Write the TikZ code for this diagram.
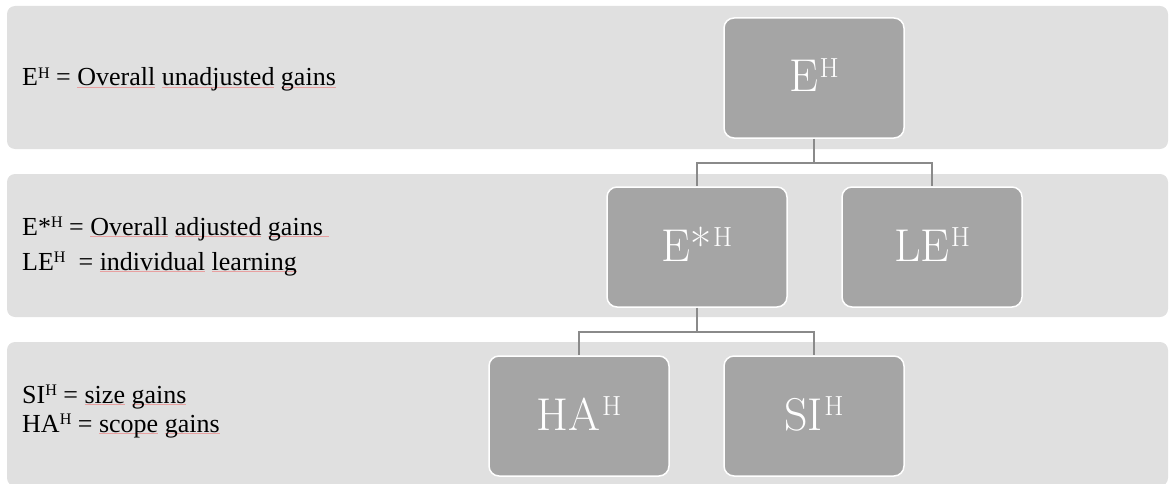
\documentclass[tikz,border=0pt]{standalone}
\usepackage{fontspec}
\usepackage{graphicx}
\newfontfamily\garfont{Liberation Serif}
\definecolor{bandgray}{HTML}{E0E0E0}
\definecolor{boxgray}{HTML}{A5A5A5}
\definecolor{conngray}{HTML}{8A8A8A}
\definecolor{squigred}{HTML}{E8A0A0}
\newcommand\supH{\kern1.5pt\raisebox{0.31em}{\scalebox{0.6}{H}}}
\newcommand\supHs{\raisebox{0.3em}{\scalebox{0.62}{H}}}
\newsavebox\squigbox
\newcommand\squig[1]{\sbox\squigbox{#1}\rlap{\textcolor{squigred}{\rule[-1.5pt]{\wd\squigbox}{0.6pt}}}\usebox\squigbox}
\begin{document}
\begin{tikzpicture}[x=1pt,y=-1pt,
  band/.style={fill=bandgray, rounded corners=8pt},
  box/.style={draw=white, line width=1.5pt, fill=boxgray, rounded corners=10pt,
    minimum width=180pt, minimum height=120pt, inner sep=0pt, text=white,
    font=\fontsize{46}{50}\selectfont, text height=28pt, text depth=0pt},
  conn/.style={draw=conngray, line width=1.6pt},
  lbl/.style={anchor=base west, inner sep=0pt, font=\garfont\fontsize{26}{30}\selectfont}]
\useasboundingbox (0,0) rectangle (1169,484);
\fill[band] (7,6) rectangle (1168,149);
\fill[band] (7,174) rectangle (1168,317);
\fill[band] (7,342) rectangle (1168,486);
\node[box] (eh) at (814,78) {E\supH};
\node[box] (es) at (697,247) {E*\supH};
\node[box] (le) at (932,247) {LE\supH};
\node[box] (ha) at (579,416) {HA\supH};
\node[box] (si) at (814,416) {SI\supH};
\draw[conn] (eh.south) -- ++(0,24) -| (es.north);
\draw[conn] (eh.south) -- ++(0,24) -| (le.north);
\draw[conn] (es.south) -- ++(0,24) -| (ha.north);
\draw[conn] (es.south) -- ++(0,24) -| (si.north);
\node[lbl] (t1) at (22,86) {E\supHs\ = \squig{Overall} \squig{unadjusted} \squig{gains}};
\node[lbl] (t2) at (22,235) {E*\supHs\ = \squig{Overall} \squig{adjusted} \squig{gains\ }};
\node[lbl] (t3) at (22,270) {LE\supHs\ \ = \squig{individual} \squig{learning}};
\node[lbl] (t4) at (22,403) {SI\supHs\ = \squig{size} \squig{gains}};
\node[lbl] (t5) at (22,432) {HA\supHs\ = \squig{scope} \squig{gains}};
\end{tikzpicture}
\end{document}
